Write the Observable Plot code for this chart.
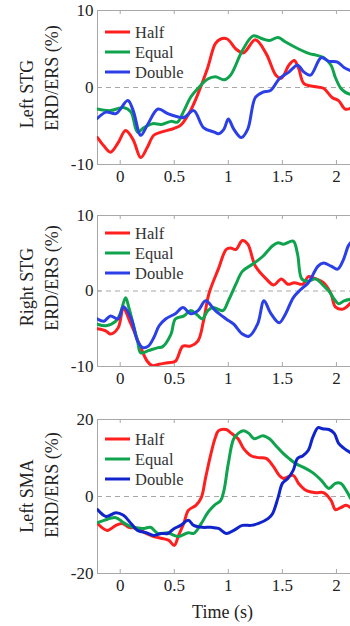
<!DOCTYPE html>
<html><head><meta charset="utf-8">
<script src="https://cdn.jsdelivr.net/npm/d3@7"></script>
<script src="https://cdn.jsdelivr.net/npm/@observablehq/plot@0.6"></script>
<style>
html,body{margin:0;padding:0;background:#fff;}
#chart{position:relative;width:350px;height:626px;overflow:hidden;background:#fff;}
#chart svg{position:absolute;left:0;}
#chart svg text{font-family:'Liberation Serif','Times New Roman',serif;}
</style></head><body><div id="chart"></div>
<script>
const conditions = ["Half", "Equal", "Double"];
const xTicks = [0, 0.5, 1, 1.5, 2];
const xDomain = [-0.21, 2.13];
const panelNames = ["Left STG", "Right STG", "Left SMA"];
const yLabel = "ERD/ERS (%)";
const xLabel = "Time (s)";

// Panel 1: Left STG  [time (s), ERD/ERS (%)]
const lstgHalf = [[-0.21,-6.5],[-0.15,-7.6],[-0.09,-8.4],[-0.02,-7.2],[0.05,-5.6],[0.12,-6.8],[0.19,-9.1],[0.25,-7.8],[0.31,-6.2],[0.38,-5.8],[0.5,-5.3],[0.56,-4.9],[0.65,-3.0],[0.72,-0.8],[0.81,2.6],[0.88,5.7],[0.93,6.3],[0.99,6.3],[1.07,5.0],[1.14,4.5],[1.25,6.2],[1.35,4.4],[1.44,1.6],[1.49,1.2],[1.56,2.9],[1.61,3.5],[1.65,2.5],[1.7,0.5],[1.81,0.1],[1.88,-0.1],[1.96,-1.3],[2.02,-1.7],[2.08,-2.8],[2.13,-2.7]];
const lstgEqual = [[-0.21,-2.8],[-0.09,-3.0],[0.03,-2.6],[0.1,-3.2],[0.16,-5.8],[0.22,-5.2],[0.3,-4.7],[0.38,-4.8],[0.47,-4.4],[0.53,-4.5],[0.59,-3.0],[0.65,-1.3],[0.72,-0.1],[0.81,1.1],[0.88,1.4],[0.96,1.0],[1.02,1.6],[1.13,4.8],[1.23,6.7],[1.32,6.3],[1.38,6.1],[1.46,6.5],[1.53,5.9],[1.65,5.0],[1.75,4.4],[1.81,4.2],[1.88,3.9],[1.95,2.9],[1.99,1.3],[2.04,-0.1],[2.08,-0.6],[2.13,-0.9]];
const lstgDouble = [[-0.21,-4.0],[-0.13,-3.2],[-0.04,-3.4],[0.07,-1.7],[0.12,-3.0],[0.19,-6.2],[0.25,-4.9],[0.35,-2.8],[0.44,-3.4],[0.53,-3.8],[0.59,-3.9],[0.68,-3.0],[0.77,-5.2],[0.87,-5.8],[0.91,-6.0],[0.96,-5.4],[1.0,-4.1],[1.05,-5.4],[1.12,-6.5],[1.18,-5.4],[1.25,-1.3],[1.32,-0.6],[1.39,-0.4],[1.47,1.1],[1.56,2.0],[1.64,2.9],[1.7,2.0],[1.76,1.6],[1.86,3.9],[1.93,3.4],[2.01,3.3],[2.07,2.6],[2.13,2.2]];

// Panel 2: Right STG
const rstgHalf = [[-0.21,-5.0],[-0.13,-5.3],[-0.09,-5.7],[-0.02,-4.9],[0.03,-2.4],[0.1,-4.4],[0.19,-7.5],[0.25,-9.3],[0.3,-9.9],[0.36,-9.7],[0.44,-9.5],[0.51,-9.3],[0.58,-7.3],[0.65,-7.3],[0.72,-6.6],[0.77,-4.0],[0.82,-0.4],[0.91,3.0],[0.98,5.5],[1.02,5.7],[1.07,5.5],[1.13,6.7],[1.18,6.2],[1.25,3.3],[1.35,1.6],[1.42,0.8],[1.49,1.6],[1.55,0.9],[1.61,1.1],[1.69,0.9],[1.74,1.9],[1.81,1.6],[1.88,1.1],[1.95,-0.4],[1.99,-2.1],[2.06,-2.4],[2.13,-1.6]];
const rstgEqual = [[-0.21,-4.4],[-0.13,-4.6],[-0.04,-4.0],[0.0,-3.0],[0.05,-0.9],[0.08,-2.2],[0.16,-6.6],[0.19,-8.2],[0.26,-7.9],[0.35,-7.5],[0.39,-7.4],[0.47,-5.7],[0.51,-3.7],[0.59,-3.3],[0.65,-2.6],[0.7,-3.0],[0.76,-3.7],[0.81,-2.6],[0.86,-2.2],[0.95,-2.6],[1.0,-1.3],[1.07,0.9],[1.13,2.6],[1.23,3.6],[1.32,4.6],[1.41,6.0],[1.46,6.4],[1.51,6.2],[1.6,6.6],[1.64,4.9],[1.68,1.6],[1.74,1.3],[1.81,1.6],[1.88,0.7],[1.93,0.0],[1.98,-1.1],[2.02,-1.7],[2.07,-1.3],[2.13,-1.1]];
const rstgDouble = [[-0.21,-3.7],[-0.15,-4.0],[-0.09,-3.3],[-0.02,-3.7],[0.03,-2.1],[0.1,-3.6],[0.16,-6.6],[0.21,-7.5],[0.26,-7.3],[0.31,-6.2],[0.36,-4.6],[0.42,-3.7],[0.51,-3.0],[0.58,-2.2],[0.65,-3.0],[0.72,-2.6],[0.79,-1.3],[0.88,-2.6],[0.98,-3.7],[1.05,-4.4],[1.13,-5.7],[1.19,-6.0],[1.27,-4.4],[1.33,-1.3],[1.39,-2.9],[1.47,-4.2],[1.53,-3.0],[1.6,-0.9],[1.67,0.2],[1.74,1.1],[1.83,3.3],[1.88,3.7],[1.95,3.3],[2.01,2.9],[2.06,4.0],[2.11,6.0],[2.13,6.4]];

// Panel 3: Left SMA
const smaHalf = [[-0.21,-7.0],[-0.12,-8.8],[-0.04,-7.5],[0.02,-7.0],[0.08,-8.0],[0.16,-8.3],[0.24,-9.6],[0.31,-10.4],[0.39,-10.9],[0.45,-11.4],[0.5,-12.7],[0.54,-10.1],[0.59,-6.8],[0.63,-3.6],[0.7,-2.3],[0.75,-0.3],[0.79,4.9],[0.84,11.2],[0.88,15.3],[0.91,17.1],[0.98,17.4],[1.02,16.6],[1.09,15.0],[1.14,12.5],[1.21,10.6],[1.28,10.1],[1.35,9.9],[1.41,8.1],[1.47,5.5],[1.51,4.7],[1.6,5.5],[1.65,3.4],[1.72,1.6],[1.81,1.0],[1.88,1.0],[1.95,-1.0],[1.99,-3.4],[2.04,-2.9],[2.09,-2.3],[2.13,-2.9]];
const smaEqual = [[-0.21,-6.8],[-0.15,-6.2],[-0.04,-5.5],[0.03,-6.8],[0.12,-8.0],[0.22,-8.3],[0.28,-8.0],[0.35,-9.6],[0.44,-9.4],[0.5,-10.1],[0.54,-10.4],[0.63,-9.4],[0.68,-9.6],[0.75,-7.0],[0.81,-4.2],[0.87,-2.3],[0.93,-1.0],[0.96,1.6],[1.0,8.6],[1.05,15.0],[1.1,16.6],[1.14,17.1],[1.19,16.4],[1.24,15.0],[1.32,15.8],[1.38,15.0],[1.44,13.2],[1.5,11.4],[1.56,9.9],[1.62,8.6],[1.7,7.5],[1.78,6.2],[1.86,4.2],[1.93,2.1],[1.99,3.4],[2.04,3.4],[2.09,1.6],[2.13,-0.5]];
const smaDouble = [[-0.21,-3.4],[-0.13,-5.2],[-0.04,-4.2],[0.03,-4.9],[0.1,-7.0],[0.16,-8.8],[0.24,-9.4],[0.31,-10.1],[0.38,-9.6],[0.44,-9.6],[0.5,-8.3],[0.56,-7.5],[0.63,-6.2],[0.68,-7.5],[0.76,-8.0],[0.84,-8.0],[0.91,-8.3],[0.98,-9.6],[1.05,-8.8],[1.13,-7.5],[1.21,-7.5],[1.28,-7.0],[1.37,-5.7],[1.41,-4.4],[1.46,-0.3],[1.5,3.4],[1.55,4.7],[1.6,6.8],[1.64,9.9],[1.69,10.6],[1.74,12.0],[1.78,15.3],[1.83,17.9],[1.87,17.6],[1.93,17.4],[1.98,16.4],[2.02,13.8],[2.07,12.5],[2.13,11.4]];

const yDomains = [[-10, 10], [-10, 10], [-20, 20]];
const yTickSets = [[-10, 0, 10], [-10, 0, 10], [-20, 0, 20]];
const colorSets = [["#ff1f1f", "#0fa34e", "#2a3fe6"], ["#ff1f1f", "#0fa34e", "#2a3fe6"], ["#ff1f1f", "#0fa34e", "#1024cc"]];

const panels = [
  {series: [lstgHalf, lstgEqual, lstgDouble], top: 0, plotH: 154, mb: 30, leg: 22, lab: [[27, 84], [52, 68]]},
  {series: [rstgHalf, rstgEqual, rstgDouble], top: 205, plotH: 151, mb: 30, leg: 18, lab: [[27, 72], [52, 63]]},
  {series: [smaHalf, smaEqual, smaDouble], top: 409, plotH: 154, mb: 53, leg: 20, lab: [[27, 77], [52, 66]]}
];

const font = "'Liberation Serif', 'Times New Roman', serif";
const chart = document.getElementById("chart");
const W = 350, ML = 97, MT = 10;

panels.forEach((p, k) => {
  const data = [];
  p.series.forEach((s, i) => s.forEach(([t, v]) => data.push({t, v, cond: conditions[i]})));
  const H = MT + p.plotH + p.mb;
  const innerW = W - ML;
  const svg = Plot.plot({
    width: W, height: H,
    marginLeft: ML, marginRight: 0, marginTop: MT, marginBottom: p.mb,
    style: {fontFamily: font, fontSize: "17px", color: "#222", background: "transparent", overflow: "visible"},
    x: {domain: xDomain, ticks: xTicks, tickSize: 0, tickPadding: 5, label: null, tickFormat: d => String(d)},
    y: {domain: yDomains[k], ticks: yTickSets[k], tickSize: 0, tickPadding: 4, label: null, tickFormat: d => String(d)},
    color: {domain: conditions, range: colorSets[k]},
    marks: [
      Plot.ruleY([0], {stroke: "#a8a8a8", strokeDasharray: "5,4", strokeWidth: 1}),
      Plot.ruleX([xDomain[0]], {stroke: "#a8a8a8"}),
      Plot.ruleY(yDomains[k], {stroke: "#a8a8a8"}),
      Plot.tickX(xTicks, {x: d => d, stroke: "#a8a8a8", insetTop: p.plotH - 4}),
      Plot.tickX(xTicks, {x: d => d, stroke: "#a8a8a8", insetBottom: p.plotH - 4}),
      Plot.tickY(yTickSets[k], {y: d => d, stroke: "#a8a8a8", insetRight: innerW - 4}),
      Plot.line(data, {x: "t", y: "v", z: "cond", stroke: "cond", strokeWidth: 3, curve: "catmull-rom", clip: true})
    ]
  });
  svg.style.top = p.top + "px";
  const g = d3.select(svg).append("g").attr("font-family", font).attr("fill", "#222");
  // y-axis label (two lines)
  [panelNames[k], yLabel].forEach((txt, j) => {
    g.append("text")
      .attr("transform", `translate(${p.lab[j][0]},${MT + p.lab[j][1]}) rotate(-90)`)
      .attr("text-anchor", "middle").attr("dy", "0.35em").attr("font-size", "18px")
      .text(txt);
  });
  // legend
  conditions.forEach((c, i) => {
    const y = MT + p.leg + i * 20;
    g.append("line").attr("x1", ML + 8).attr("x2", ML + 33).attr("y1", y).attr("y2", y)
      .attr("stroke", colorSets[k][i]).attr("stroke-width", 3);
    g.append("text").attr("x", ML + 38).attr("y", y).attr("dy", "0.35em")
      .attr("text-anchor", "start")
      .attr("font-size", "16.5px").attr("fill", "#333").text(c);
  });
  if (k === 2) {
    g.append("text").attr("x", ML + innerW / 2 - 1).attr("y", MT + p.plotH + 39)
      .attr("text-anchor", "middle").attr("dy", "0.35em").attr("font-size", "18px").text(xLabel);
  }
  chart.appendChild(svg);
});
</script></body></html>
